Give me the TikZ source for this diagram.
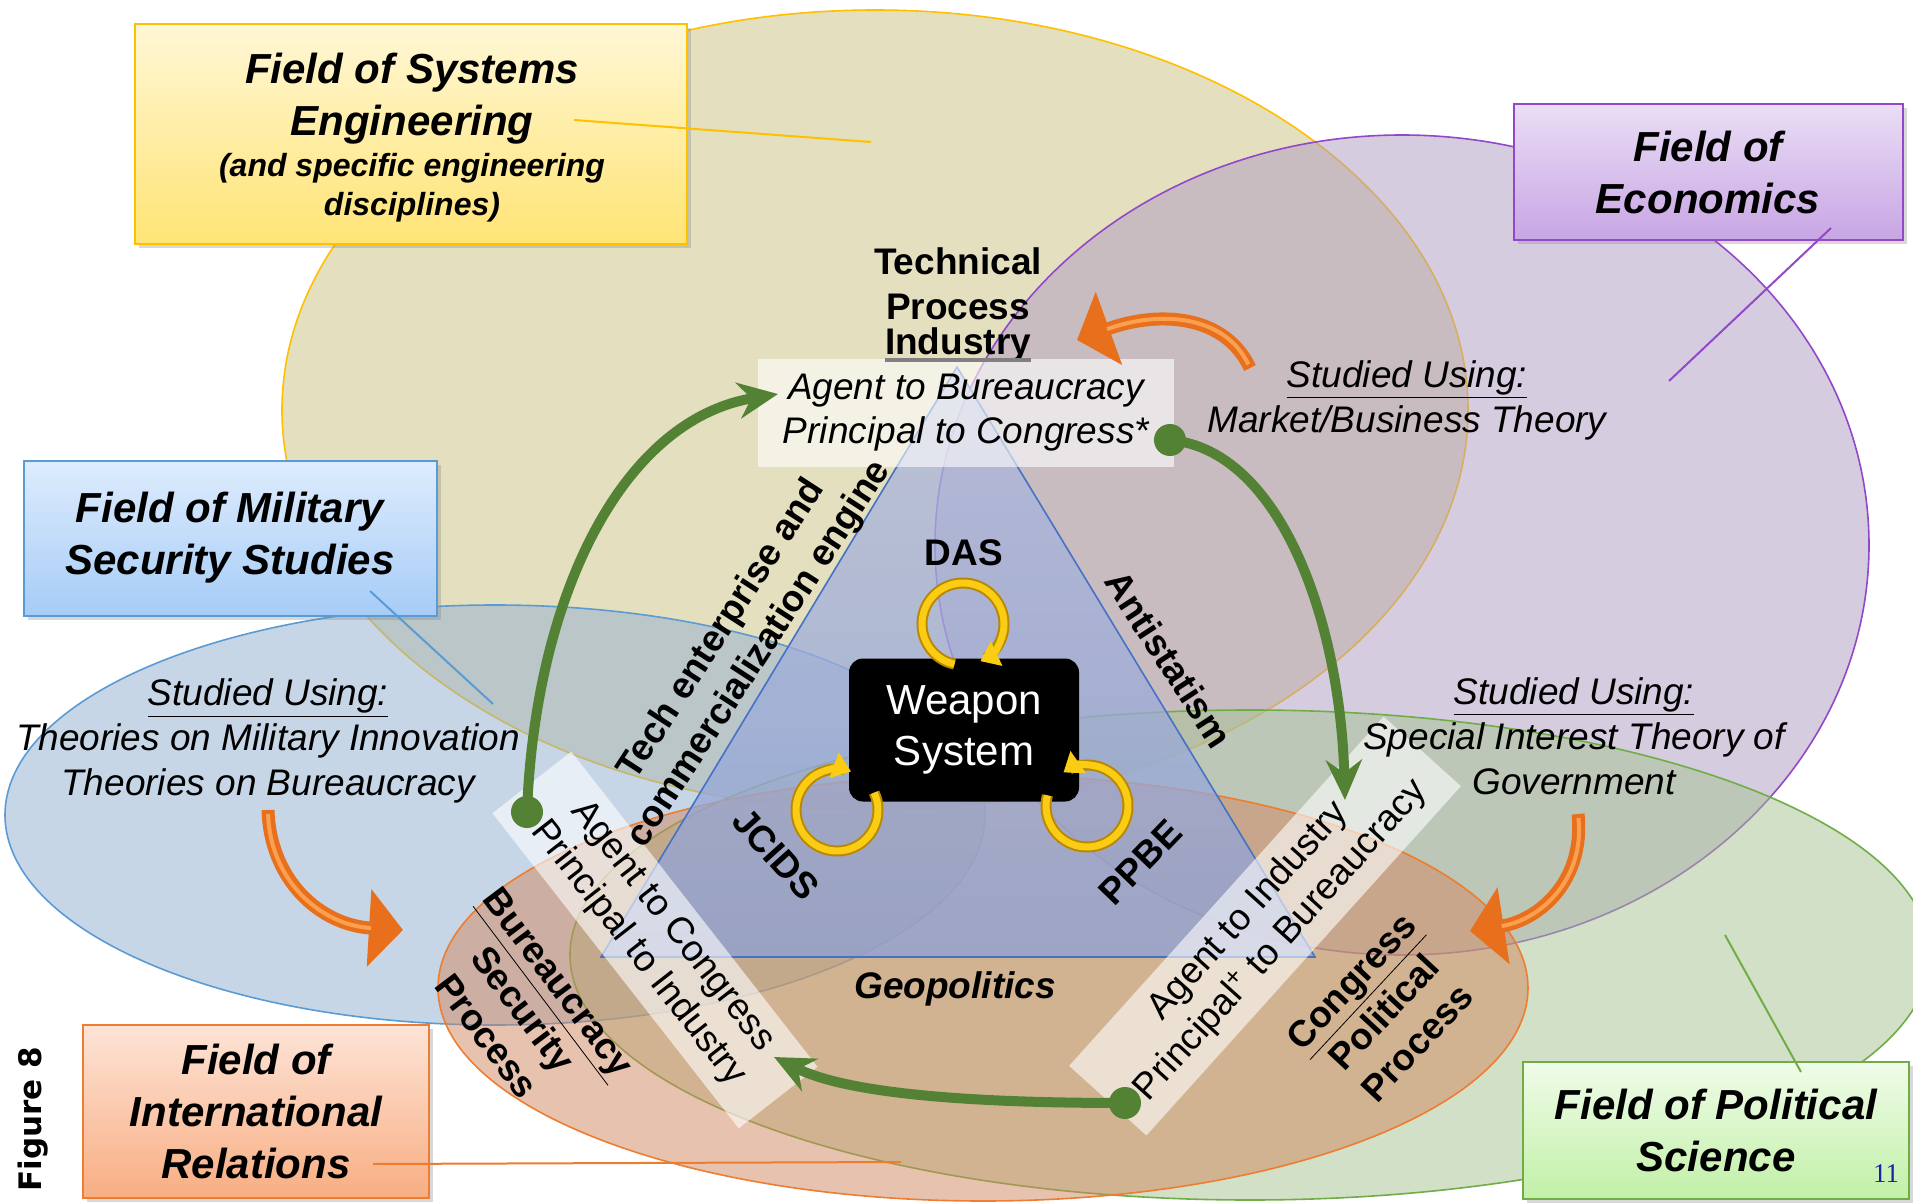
\documentclass[tikz,border=0pt]{standalone}
\usepackage{fontspec}
\setmainfont{Liberation Sans}
\newfontfamily\figfont{DejaVu Sans}
\newfontfamily\pagefont{Liberation Serif}
\usetikzlibrary{arrows.meta}
\usetikzlibrary{shadows}
\usetikzlibrary{positioning}

\definecolor{seyellow}{RGB}{203,193,129}
\definecolor{seline}{RGB}{255,192,0}
\definecolor{ecpurple}{RGB}{175,155,195}
\definecolor{ecline}{RGB}{146,72,200}
\definecolor{msblue}{RGB}{145,175,209}
\definecolor{msline}{RGB}{91,155,213}
\definecolor{irorange}{RGB}{209,135,95}
\definecolor{irline}{RGB}{237,125,49}
\definecolor{psgreen}{RGB}{165,195,145}
\definecolor{psline}{RGB}{112,173,71}
\definecolor{seTop}{RGB}{255,247,214}
\definecolor{seBottom}{RGB}{255,228,117}
\definecolor{ecTop}{RGB}{234,222,245}
\definecolor{ecBottom}{RGB}{200,165,228}
\definecolor{msTop}{RGB}{222,236,253}
\definecolor{msBottom}{RGB}{166,204,247}
\definecolor{irTop}{RGB}{253,228,216}
\definecolor{irBottom}{RGB}{248,174,130}
\definecolor{psTop}{RGB}{240,252,233}
\definecolor{psBottom}{RGB}{194,240,168}
\definecolor{tritop}{RGB}{175,185,220}
\definecolor{tribottom}{RGB}{140,160,215}
\definecolor{triblue}{RGB}{68,114,196}
\definecolor{agentgreen}{RGB}{84,130,53}
\definecolor{studyorange}{RGB}{232,112,28}
\definecolor{studylight}{RGB}{250,160,80}
\definecolor{loopgold}{RGB}{250,205,20}
\definecolor{loopedge}{RGB}{185,135,0}
\definecolor{pageblue}{RGB}{30,30,170}

\tikzset{every node/.style={inner sep=0pt}, % text nodes sit tight
    fieldbox/.style={ % the five field labels
    draw, line width=1pt,
    drop shadow={shadow xshift=2pt, shadow yshift=-2pt, opacity=0.3}},
    fieldtitle/.style={align=center, font=\fontsize{21}{26}\selectfont\bfseries\itshape},
    fieldsub/.style={align=center, font=\fontsize{16}{19.5}\selectfont\bfseries\itshape},
    leader/.style={line width=1pt}}

\begin{document}
\begin{tikzpicture}[x=0.5pt, y=-0.5pt,
    fieldarea/.style={line width=0.8pt, fill opacity=0.5},
    lbl/.style={align=center, font=\fontsize{18.5}{22.5}\selectfont\bfseries},
    theory/.style={align=center, font=\fontsize{18.5}{22.5}\selectfont\itshape},
    agentbox/.style={fill=white, fill opacity=0.6, text opacity=1, align=center,
        font=\fontsize{18.5}{22}\selectfont},
    weapon/.style={fill=black, rounded corners=7pt, minimum width=115pt, minimum height=71.5pt,
        text=white, align=center, font=\fontsize{21}{25.5}\selectfont},
    agentflow/.style={draw=agentgreen, line width=5pt, -{Stealth[length=20pt,width=18pt]}},
    studyflow/.style={draw=studyorange, line width=6.5pt, -{Triangle[length=17pt,width=38pt]}},
    studyshine/.style={draw=studylight, line width=2pt, shorten >=16pt, shorten <=2pt},
    ringedge/.style={draw=loopedge, line width=5.5pt},
    loopring/.style={draw=loopgold, line width=3.5pt, -{Triangle[length=9pt,width=13pt]}}
    ]

    \useasboundingbox (0,0) rectangle (1913,1204);
    \fill[white] (0,0) rectangle (1913,1204);

    % Fields of study
    \filldraw[fieldarea, fill=seyellow, draw=seline] (875,410) ellipse [x radius=593, y radius=400];
    \filldraw[fieldarea, fill=ecpurple, draw=ecline] (1402,545) ellipse [x radius=467, y radius=410];
    \filldraw[fieldarea, fill=msblue, draw=msline] (495,815) ellipse [x radius=490, y radius=210];
    \filldraw[fieldarea, fill=psgreen, draw=psline] (1250,955) ellipse [x radius=680, y radius=245];
    \filldraw[fieldarea, fill=irorange, draw=irline] (983,988) ellipse [x radius=545, y radius=213];

    % Triangle
    \coordinate (apex) at (957,367);
    \coordinate (baseL) at (601,957);
    \coordinate (baseR) at (1315,957);
    \path[top color=tritop, bottom color=tribottom, fill opacity=0.75] (apex) -- (baseL) -- (baseR) -- cycle;
    \draw[triblue, line width=0.8pt] (apex) -- (baseL) -- (baseR) -- cycle;

    % Agent / principal boxes
    \node[agentbox, minimum width=208pt, minimum height=54pt, font=\fontsize{18.5}{22}\selectfont\itshape]
        (bureauBox) at (966,413) {Agent to Bureaucracy\\Principal to Congress*};
    \node[agentbox, rotate=-52, minimum width=200pt, minimum height=50pt]
        (congressBox) at (655,940) {Agent to Congress\\Principal to Industry};
    \node[agentbox, rotate=48, minimum width=235pt, minimum height=52pt]
        (industryBox) at (1265,926) {Agent to Industry\\Principal\textsuperscript{+} to Bureaucracy};

    % Labels
    \node[lbl] (techProc) at (958,284) {Technical\\Process};
    \node[lbl] (industry) at (958,345) {Industry};
    \draw[gray, line width=2pt] ([yshift=-2.5pt]industry.base west) -- ([yshift=-2.5pt]industry.base east);
    \node[lbl] (das) at (964,553) {DAS};
    \node[lbl, rotate=-48] (jcids) at (776,854) {JCIDS};
    \node[lbl, rotate=46] (ppbe) at (1140,862) {PPBE};
    \node[lbl, rotate=-57] (antistat) at (1169,659) {Antistatism};
    \node[lbl, rotate=57] (techEng) at (741,642) {Tech enterprise and\\commercialization engine};
    \node[lbl, font=\fontsize{18.5}{22.5}\selectfont\bfseries\itshape] (geopol) at (955,989) {Geopolitics};
    \node[lbl, rotate=-53] (securityProc) at (523,1009) {\underline{Bureaucracy}\\Security\\Process};
    \node[lbl, rotate=47] (politicalProc) at (1384,1012) {\underline{Congress}\\Political\\Process};

    % Studied using
    \node[theory] (ecStudy) at (1407,400) {\underline{Studied Using:}\\Market/Business Theory};
    \node[theory] (msStudy) at (268,741) {\underline{Studied Using:}\\Theories on Military Innovation\\Theories on Bureaucracy};
    \node[theory] (psStudy) at (1574,736) {\underline{Studied Using:}\\Special Interest Theory of\\Government};

    % Weapon system and its loops
    \node[weapon] (weapon) at (964,730) {Weapon\\System};
    \coordinate (dasLoop) at (963,624);
    \coordinate (jcidsLoop) at (837,810);
    \coordinate (ppbeLoop) at (1087,806);
    \draw[ringedge] (dasLoop) ++(102:41) arc [start angle=102, end angle=415, radius=41];
    \draw[loopring] (dasLoop) ++(102:41) arc [start angle=102, end angle=425, radius=41];
    \draw[ringedge] (jcidsLoop) ++(335:41) arc [start angle=335, end angle=640, radius=41];
    \draw[loopring] (jcidsLoop) ++(335:41) arc [start angle=335, end angle=650, radius=41];
    \draw[ringedge] (ppbeLoop) ++(195:41) arc [start angle=195, end angle=-115, radius=41];
    \draw[loopring] (ppbeLoop) ++(195:41) arc [start angle=195, end angle=-125, radius=41];

    % Agent flows
    \coordinate (congressDot) at (527,812);
    \coordinate (bureauTip) at (778,394);
    \coordinate (bureauDot) at (1170,440);
    \coordinate (industryTip) at (1345,800);
    \coordinate (industryDot) at (1125,1103);
    \coordinate (congressTip) at (774,1057);
    \draw[agentflow] (congressDot) .. controls (535,600) and (620,420) .. (bureauTip);
    \draw[agentflow] (bureauDot) .. controls (1280,450) and (1340,620) .. (industryTip);
    \draw[agentflow] (industryDot) .. controls (980,1103) and (850,1095) .. (congressTip);
    \foreach \d in {congressDot, bureauDot, industryDot}
        \fill[agentgreen] (\d) circle [radius=16];

    % Studied-using arrows
    \coordinate (ecTail) at (1250,368);
    \coordinate (ecHead) at (1077,340);
    \coordinate (msTail) at (268,810);
    \coordinate (msHead) at (403,930);
    \coordinate (psTail) at (1578,814);
    \coordinate (psHead) at (1470,931);
    \draw[studyflow] (ecTail) .. controls (1225,315) and (1160,310) .. (ecHead);
    \draw[studyflow] (msTail) .. controls (270,880) and (320,925) .. (msHead);
    \draw[studyflow] (psTail) .. controls (1585,880) and (1540,920) .. (psHead);
    \draw[studyshine] (ecTail) .. controls (1225,315) and (1160,310) .. (ecHead);
    \draw[studyshine] (msTail) .. controls (270,880) and (320,925) .. (msHead);
    \draw[studyshine] (psTail) .. controls (1585,880) and (1540,920) .. (psHead);

    % Field boxes
    \node[fieldbox, draw=seline, top color=seTop, bottom color=seBottom,
        minimum width=276pt, minimum height=110pt] (seBox) at (411,134) {};
    \node[fieldtitle] (seTitle) at (412,99) {Field of Systems\\Engineering};
    \node[fieldsub] (seSub) at (412,188) {(and specific engineering\\disciplines)};
    \node[fieldbox, fieldtitle, draw=ecline, top color=ecTop, bottom color=ecBottom,
        minimum width=194.5pt, minimum height=68pt] (ecBox) at (1708,172) {Field of\\Economics};
    \node[fieldbox, fieldtitle, draw=msline, top color=msTop, bottom color=msBottom,
        minimum width=206.5pt, minimum height=77.5pt] (msBox) at (230,538) {Field of Military\\Security Studies};
    \node[fieldbox, fieldtitle, draw=irline, top color=irTop, bottom color=irBottom,
        minimum width=173pt, minimum height=86.5pt] (irBox) at (256,1111) {Field of\\International\\Relations};
    \node[fieldbox, fieldtitle, draw=psline, top color=psTop, bottom color=psBottom,
        minimum width=193pt, minimum height=68.5pt] (psBox) at (1716,1130) {Field of Political\\Science};

    % Leader lines
    \coordinate (seFrom) at (574,120);
    \coordinate (seTo) at (871,142);
    \coordinate (ecFrom) at (1831,228);
    \coordinate (ecTo) at (1669,381);
    \coordinate (msFrom) at (370,591);
    \coordinate (msTo) at (493,704);
    \coordinate (irFrom) at (373,1164);
    \coordinate (irTo) at (901,1162);
    \coordinate (psFrom) at (1801,1072);
    \coordinate (psTo) at (1725,935);
    \draw[leader, seline] (seFrom) -- (seTo);
    \draw[leader, ecline] (ecFrom) -- (ecTo);
    \draw[leader, msline] (msFrom) -- (msTo);
    \draw[leader, irline] (irFrom) -- (irTo);
    \draw[leader, psline] (psFrom) -- (psTo);

    \node[rotate=90, font=\figfont\bfseries\fontsize{15.5}{18}\selectfont] (figLabel) at (33,1119) {Figure 8};
    \node[font=\pagefont\fontsize{13.5}{16}\selectfont, text=pageblue] (pageNo) at (1886,1174) {11};

\end{tikzpicture}
\end{document}
